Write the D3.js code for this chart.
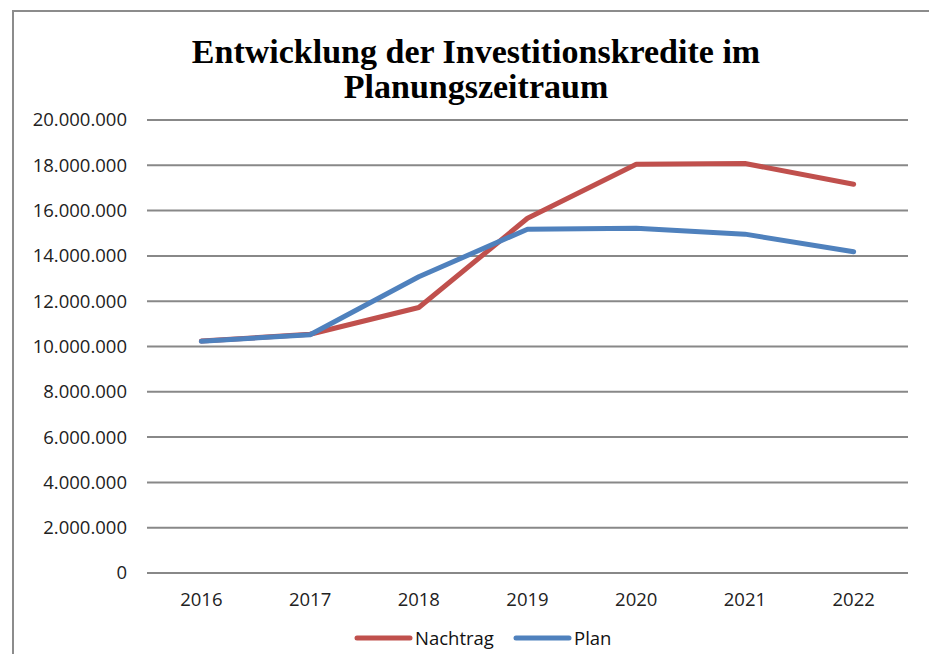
<!DOCTYPE html>
<html>
<head>
<meta charset="utf-8">
<script src="https://cdn.jsdelivr.net/npm/d3@7"></script>
<style>
  html, body { margin: 0; padding: 0; background: #fff; }
  svg { display: block; }
</style>
</head>
<body>
<svg id="chart" width="929" height="654"></svg>
<script>
const years = ["2016", "2017", "2018", "2019", "2020", "2021", "2022"];
const nachtrag = [10240000, 10540000, 11720000, 15660000, 18050000, 18080000, 17160000];
const plan = [10230000, 10520000, 13080000, 15180000, 15220000, 14960000, 14180000];
const yTicks = [0, 2000000, 4000000, 6000000, 8000000, 10000000, 12000000, 14000000, 16000000, 18000000, 20000000];
const titleLines = ["Entwicklung der Investitionskredite im", "Planungszeitraum"];
const seriesNames = ["Nachtrag", "Plan"];
const seriesColors = ["#c0504d", "#4f81bd"];

(function () {
const svg = d3.select("#chart");
const W = 929, H = 654;
const labelFont = "'Open Sans', sans-serif";
const labelSize = "18.5px";

// outer chart-area border
svg.append("path")
  .attr("d", `M13,${H} L13,11 L${W},11`)
  .attr("fill", "none")
  .attr("stroke", "#8c8c8c")
  .attr("stroke-width", 2);

const pLeft = 147, pRight = 908, pTop = 120, pBottom = 573;

const x = d3.scaleBand().domain(years).range([pLeft, pRight]);
const y = d3.scaleLinear().domain([0, 20000000]).range([pBottom, pTop]);

const fmt = v => d3.format(",")(v).replace(/,/g, ".");

// gridlines
svg.append("g")
  .selectAll("line")
  .data(yTicks)
  .join("line")
  .attr("x1", pLeft).attr("x2", pRight)
  .attr("y1", d => y(d)).attr("y2", d => y(d))
  .attr("stroke", "#888")
  .attr("stroke-width", 2);

// y axis labels
const yAxis = d3.axisLeft(y).tickValues(yTicks).tickFormat(fmt).tickSize(0).tickPadding(20);
const gy = svg.append("g").attr("transform", `translate(${pLeft},0)`).call(yAxis);
gy.select(".domain").remove();
gy.selectAll("text")
  .attr("font-family", labelFont)
  .attr("font-size", labelSize)
  .attr("fill", "#222");

// x axis labels
const xAxis = d3.axisBottom(x).tickSize(0).tickPadding(20);
const gx = svg.append("g").attr("transform", `translate(0,${pBottom})`).call(xAxis);
gx.select(".domain").remove();
gx.selectAll("text")
  .attr("font-family", labelFont)
  .attr("font-size", labelSize)
  .attr("fill", "#222");

// lines
const line = d3.line()
  .x((d, i) => x(years[i]) + x.bandwidth() / 2)
  .y(d => y(d));

[nachtrag, plan].forEach((s, i) => {
  svg.append("path")
    .datum(s)
    .attr("d", line)
    .attr("fill", "none")
    .attr("stroke", seriesColors[i])
    .attr("stroke-width", 5)
    .attr("stroke-linejoin", "round")
    .attr("stroke-linecap", "round");
});

// title
svg.append("text")
  .attr("text-anchor", "middle")
  .attr("font-family", "'Liberation Serif', serif")
  .attr("font-weight", "bold")
  .attr("font-size", "34px")
  .attr("fill", "#000")
  .selectAll("tspan")
  .data(titleLines)
  .join("tspan")
  .attr("x", 476)
  .attr("y", (d, i) => 63 + i * 35)
  .text(d => d);

// legend
const legendX = [357, 516];
const lg = svg.append("g");
seriesNames.forEach((n, i) => {
  lg.append("line")
    .attr("x1", legendX[i]).attr("x2", legendX[i] + 53)
    .attr("y1", 638).attr("y2", 638)
    .attr("stroke", seriesColors[i])
    .attr("stroke-width", 5)
    .attr("stroke-linecap", "round");
  lg.append("text")
    .attr("x", legendX[i] + 58)
    .attr("y", 645)
    .attr("font-family", labelFont)
    .attr("font-size", labelSize)
    .attr("fill", "#111")
    .text(n);
});
})();
</script>
</body>
</html>
